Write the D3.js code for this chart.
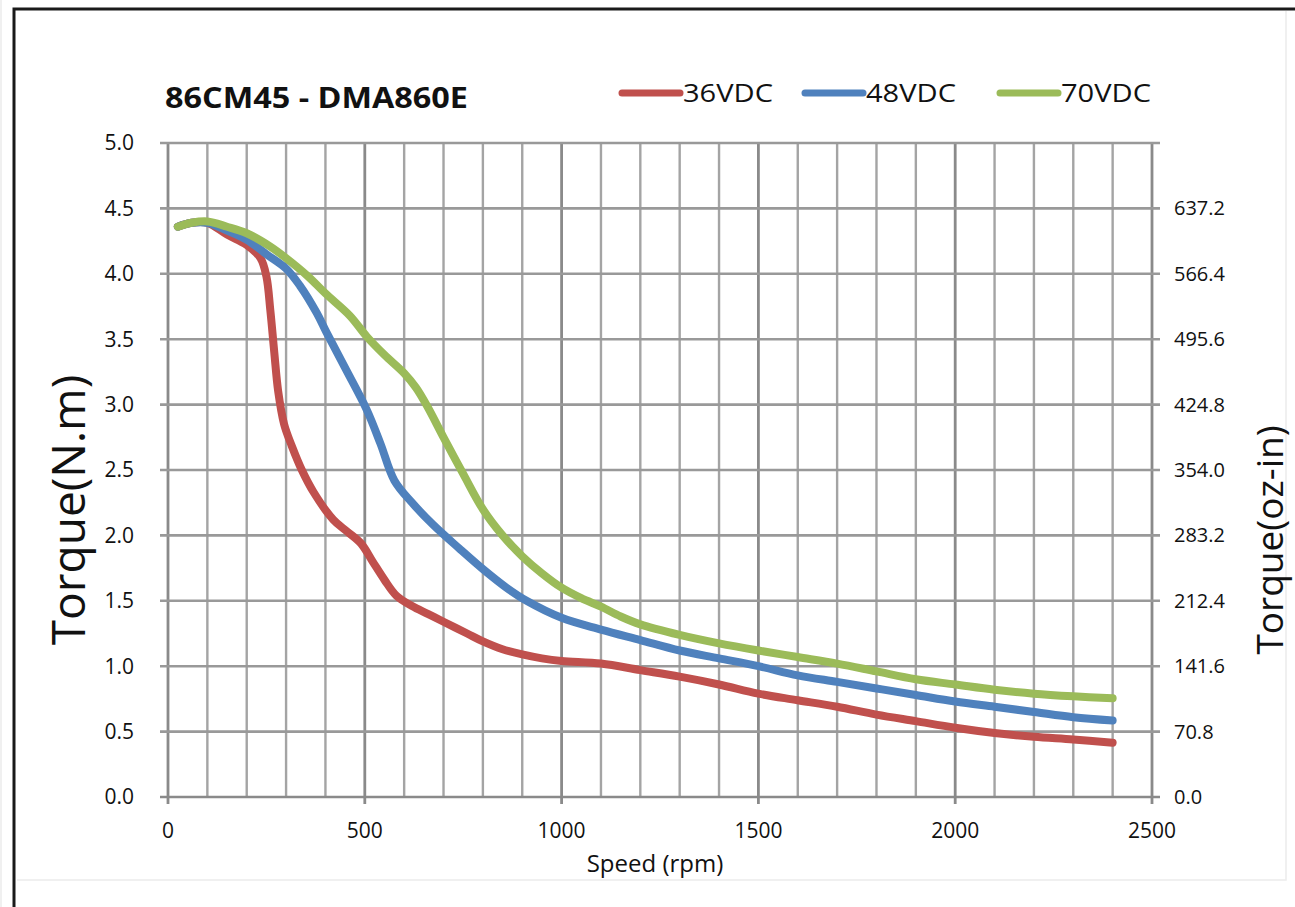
<!DOCTYPE html>
<html lang="en">
  <head>
    <meta charset="UTF-8" />
    <title>86CM45 - DMA860E torque curve</title>
    <script src="https://d3js.org/d3.v7.min.js"></script>
    <style>
      body { margin: 0; background: #ffffff; }
      text { font-family: "Open Sans", sans-serif; fill: #111; }
    </style>
  </head>
  <body>
    <div id="viz"></div>
    <script>
      // series names + colours
      const seriesNames = ["36VDC", "48VDC", "70VDC"];
      const seriesColors = ["#c0504d", "#4f81bd", "#9bbb59"];

      // speed (rpm) / torque (N.m)
      const speed36 = [25, 60, 100, 150, 200, 235, 250, 260, 270, 280, 295, 315, 340, 370, 420, 455, 490, 520, 550, 580, 620, 660, 700, 760, 800, 850, 900, 950, 1000, 1100, 1200, 1300, 1400, 1500, 1600, 1700, 1800, 1900, 2000, 2100, 2200, 2300, 2400];
      const torque36 = [4.36, 4.39, 4.39, 4.30, 4.22, 4.12, 3.98, 3.72, 3.40, 3.10, 2.85, 2.68, 2.50, 2.33, 2.12, 2.03, 1.94, 1.80, 1.66, 1.54, 1.46, 1.40, 1.34, 1.25, 1.19, 1.13, 1.09, 1.06, 1.04, 1.02, 0.97, 0.92, 0.86, 0.79, 0.74, 0.69, 0.63, 0.58, 0.53, 0.49, 0.46, 0.44, 0.415];

      const speed48 = [25, 60, 100, 150, 200, 250, 300, 335, 378, 403, 450, 505, 540, 575, 620, 674, 740, 801, 860, 911, 1000, 1100, 1200, 1300, 1400, 1500, 1600, 1700, 1800, 1900, 2000, 2100, 2200, 2300, 2400];
      const torque48 = [4.36, 4.39, 4.39, 4.33, 4.26, 4.15, 4.04, 3.91, 3.70, 3.55, 3.28, 2.96, 2.70, 2.42, 2.25, 2.08, 1.90, 1.74, 1.60, 1.50, 1.37, 1.28, 1.20, 1.12, 1.06, 1.00, 0.93, 0.88, 0.83, 0.78, 0.73, 0.69, 0.65, 0.61, 0.585];

      const speed70 = [25, 60, 100, 150, 200, 259, 300, 356, 400, 462, 505, 550, 600, 630, 660, 700, 750, 800, 850, 900, 950, 1000, 1050, 1100, 1150, 1200, 1300, 1400, 1500, 1600, 1700, 1800, 1900, 2000, 2100, 2200, 2300, 2400];
      const torque70 = [4.36, 4.39, 4.40, 4.36, 4.31, 4.21, 4.12, 3.98, 3.85, 3.68, 3.52, 3.38, 3.24, 3.13, 2.98, 2.75, 2.47, 2.20, 2.00, 1.84, 1.71, 1.60, 1.52, 1.455, 1.38, 1.32, 1.24, 1.175, 1.12, 1.07, 1.02, 0.96, 0.90, 0.86, 0.82, 0.79, 0.77, 0.755];

      // tick labels
      const xTicks = [0, 500, 1000, 1500, 2000, 2500];
      const yTicks = [0, 0.5, 1, 1.5, 2, 2.5, 3, 3.5, 4, 4.5, 5];
      const ozTicks = ["0.0", "70.8", "141.6", "212.4", "283.2", "354.0", "424.8", "495.6", "566.4", "637.2"];

      const W = 1295, H = 907;
      const svg = d3.select("#viz").append("svg")
        .attr("width", W).attr("height", H);

      // frame
      svg.append("rect").attr("x", 0).attr("y", 0).attr("width", W).attr("height", H).attr("fill", "#fff");
      svg.append("line").attr("x1", 1).attr("x2", 1).attr("y1", 0).attr("y2", H).attr("stroke", "#f0f0f0").attr("stroke-width", 2);
      svg.append("path")
        .attr("d", `M14,${H} L14,9 L${W},9`)
        .attr("fill", "none").attr("stroke", "#1a1a1a").attr("stroke-width", 3);
      svg.append("path")
        .attr("d", `M17,880 L1286,880 L1286,11`)
        .attr("fill", "none").attr("stroke", "#ececec").attr("stroke-width", 1.5);

      const x = d3.scaleLinear().domain([0, 2500]).range([168, 1152]);
      const y = d3.scaleLinear().domain([0, 5]).range([797, 143]);

      // grid
      const grid = svg.append("g");
      grid.selectAll(".vg").data(d3.range(0, 2501, 100)).join("line")
        .attr("x1", d => x(d)).attr("x2", d => x(d))
        .attr("y1", y(5)).attr("y2", d => d % 500 === 0 ? y(0) + 7 : y(0))
        .attr("stroke", d => d % 500 === 0 ? "#8a8a8a" : "#a4a4a4")
        .attr("stroke-width", d => d % 500 === 0 ? 2.8 : 2.4);
      grid.selectAll(".hg").data(yTicks).join("line")
        .attr("x1", x(0) - 8).attr("x2", x(2500) + 8)
        .attr("y1", d => y(d)).attr("y2", d => y(d))
        .attr("stroke", d => d === 0 ? "#8a8a8a" : "#999")
        .attr("stroke-width", 2.6);

      // left axis labels
      svg.append("g").selectAll("text").data(yTicks).join("text")
        .attr("x", 134).attr("y", d => y(d)).attr("dy", "0.35em")
        .attr("text-anchor", "end").attr("font-size", 21)
        .text(d => d.toFixed(1));

      // right axis labels
      svg.append("g").selectAll("text").data(ozTicks).join("text")
        .attr("x", 1174).attr("y", (d, i) => y(i * 0.5)).attr("dy", "0.35em")
        .attr("text-anchor", "start").attr("font-size", 20)
        .text(d => d);

      // bottom labels
      svg.append("g").selectAll("text").data(xTicks).join("text")
        .attr("x", d => x(d)).attr("y", 838)
        .attr("text-anchor", "middle").attr("font-size", 21)
        .text(d => d);

      // axis titles
      svg.append("text").attr("x", 655).attr("y", 872)
        .attr("text-anchor", "middle").attr("font-size", 24).text("Speed (rpm)");
      svg.append("text").attr("transform", "translate(85,510) rotate(-90)")
        .attr("text-anchor", "middle").attr("font-size", 46).text("Torque(N.m)");
      svg.append("text").attr("transform", "translate(1283,540) rotate(-90)")
        .attr("text-anchor", "middle").attr("font-size", 37).text("Torque(oz-in)");

      // title
      svg.append("text").attr("x", 165).attr("y", 108)
        .attr("font-size", 28).attr("font-weight", "bold")
        .attr("textLength", 303).attr("lengthAdjust", "spacingAndGlyphs")
        .text("86CM45 - DMA860E");

      // curves
      const series = [
        { name: seriesNames[0], color: seriesColors[0], xs: speed36, ys: torque36 },
        { name: seriesNames[1], color: seriesColors[1], xs: speed48, ys: torque48 },
        { name: seriesNames[2], color: seriesColors[2], xs: speed70, ys: torque70 }
      ];
      const line = d3.line()
        .x(d => x(d[0])).y(d => y(d[1]))
        .curve(d3.curveCatmullRom.alpha(0.5));

      svg.append("g").selectAll("path").data(series).join("path")
        .attr("d", s => line(s.xs.map((v, i) => [v, s.ys[i]])))
        .attr("fill", "none")
        .attr("stroke", s => s.color)
        .attr("stroke-width", 8)
        .attr("stroke-linecap", "round")
        .attr("stroke-linejoin", "round");

      // legend
      const legX = [622, 805, 1000];
      const leg = svg.append("g").selectAll("g").data(series).join("g")
        .attr("transform", (d, i) => `translate(${legX[i]},93)`);
      leg.append("line").attr("x1", 0).attr("x2", 58)
        .attr("stroke", d => d.color).attr("stroke-width", 7).attr("stroke-linecap", "round");
      leg.append("text").attr("x", 61).attr("y", 0).attr("dy", "0.36em")
        .attr("font-size", 26)
        .attr("textLength", 90).attr("lengthAdjust", "spacingAndGlyphs")
        .text(d => d.name);
    </script>
  </body>
</html>
